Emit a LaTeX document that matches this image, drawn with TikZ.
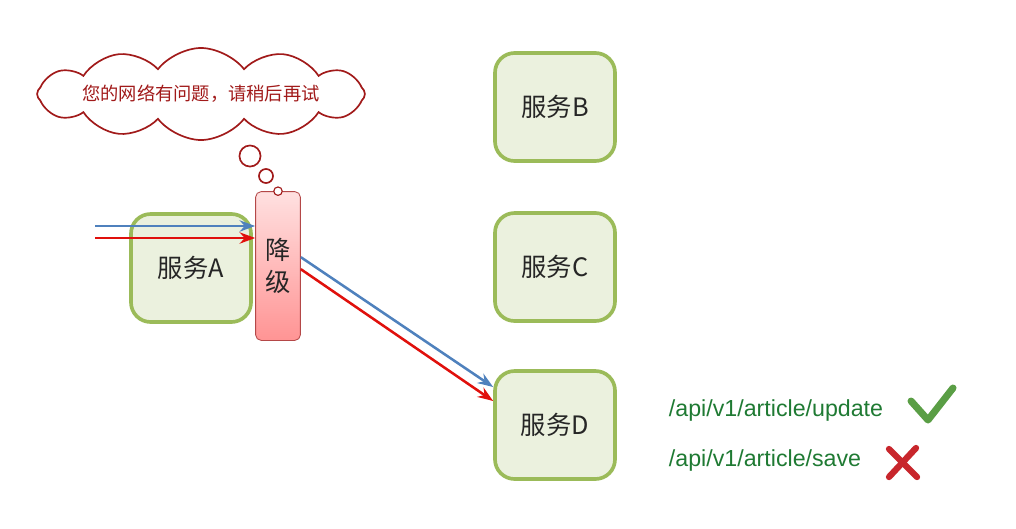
\documentclass[tikz,border=0pt]{standalone}
\usepackage{fontspec}
\setmainfont{Liberation Sans}
\newfontfamily\cjk{Noto Sans CJK SC}
\usetikzlibrary{shapes.symbols, positioning, arrows.meta}

\definecolor{boxline}{HTML}{9BBB59}
\definecolor{boxfill}{HTML}{EBF1DE}
\definecolor{flowblue}{HTML}{4F81BD}
\definecolor{flowred}{HTML}{E0100C}
\definecolor{cloudred}{HTML}{A11A1A}
\definecolor{apigreen}{HTML}{1F7A33}
\definecolor{okgreen}{HTML}{5A9E45}
\definecolor{nored}{HTML}{C8262C}

\tikzset{
  service/.style={rectangle, rounded corners=14pt, draw=boxline, fill=boxfill, line width=2.6pt,
    minimum width=3cm, minimum height=2.7cm, font=\cjk\fontsize{18}{21}\selectfont, text=black!85},
  fallback/.style={rectangle, rounded corners=4pt, draw=cloudred!80, line width=0.6pt,
    top color=red!12, bottom color=red!42, minimum width=1.12cm, minimum height=3.72cm,
    align=center, font=\cjk\fontsize{18}{23}\selectfont, text=black!85},
  bubble/.style={circle, draw=cloudred, line width=1.2pt, fill=white, inner sep=0pt},
  thought/.style={cloud, cloud puffs=12, cloud puff arc=105, cloud ignores aspect, draw=cloudred, line width=1.2pt,
    fill=white, minimum width=8.1cm, minimum height=2.3cm, inner sep=0pt,
    font=\cjk\fontsize{13}{15}\selectfont, text=cloudred},
  api/.style={font=\fontsize{16.5}{20}\selectfont, text=apigreen, anchor=west},
  flow/.style={line width=1.8pt, -{Stealth[length=11pt, width=8pt]}}
}

\begin{document}
\begin{tikzpicture}[x=0.025cm, y=-0.025cm]
        \useasboundingbox (0,0) rectangle (1016,528);

        % === Servicios ===
        \node (svcA) [service] at (191,268) {服务A};
        \node (svcB) [service] at (555,107) {服务B};
        \node (svcC) [service] at (555,267) {服务C};
        \node (svcD) [service] at (555,425) {服务D};

        % === Degradación ===
        \node (degrade) [fallback] at (278,266) {降\\级};
        \node (dot) [bubble, minimum size=6pt, line width=0.8pt] at (degrade.north) {};
        \node (bub1) [bubble, minimum size=10pt] at (266,176) {};
        \node (bub2) [bubble, minimum size=15pt] at (250,156) {};
        \node (msg) [thought] at (201,94) {您的网络有问题，请稍后再试};

        % === Flechas ===
        \coordinate (inBlue) at (95,226);
        \coordinate (inRed) at (95,238);
        \draw [flow, flowblue] (inBlue) -- (inBlue -| degrade.west);
        \draw [flow, flowred] (inRed) -- (inRed -| degrade.west);
        \draw [flow, flowblue] ([yshift=-1.65cm]degrade.north east) -- ([yshift=0.95cm]svcD.west);
        \draw [flow, flowred] ([yshift=-1.95cm]degrade.north east) -- ([yshift=0.6cm]svcD.west);

        % === Rutas API ===
        \node (apiUpd) [api] at (664,410) {/api/v1/article/update};
        \node (apiSave) [api] at (664,460) {/api/v1/article/save};
        \draw [okgreen, line width=5pt, line cap=round, line join=round]
          (911,401) -- (928,420) -- (953,388);
        \draw [nored, line width=4.5pt, line cap=round] (889,449) -- (917,477);
        \draw [nored, line width=4.5pt, line cap=round] (916,448) -- (889,477);

    \end{tikzpicture}
\end{document}
